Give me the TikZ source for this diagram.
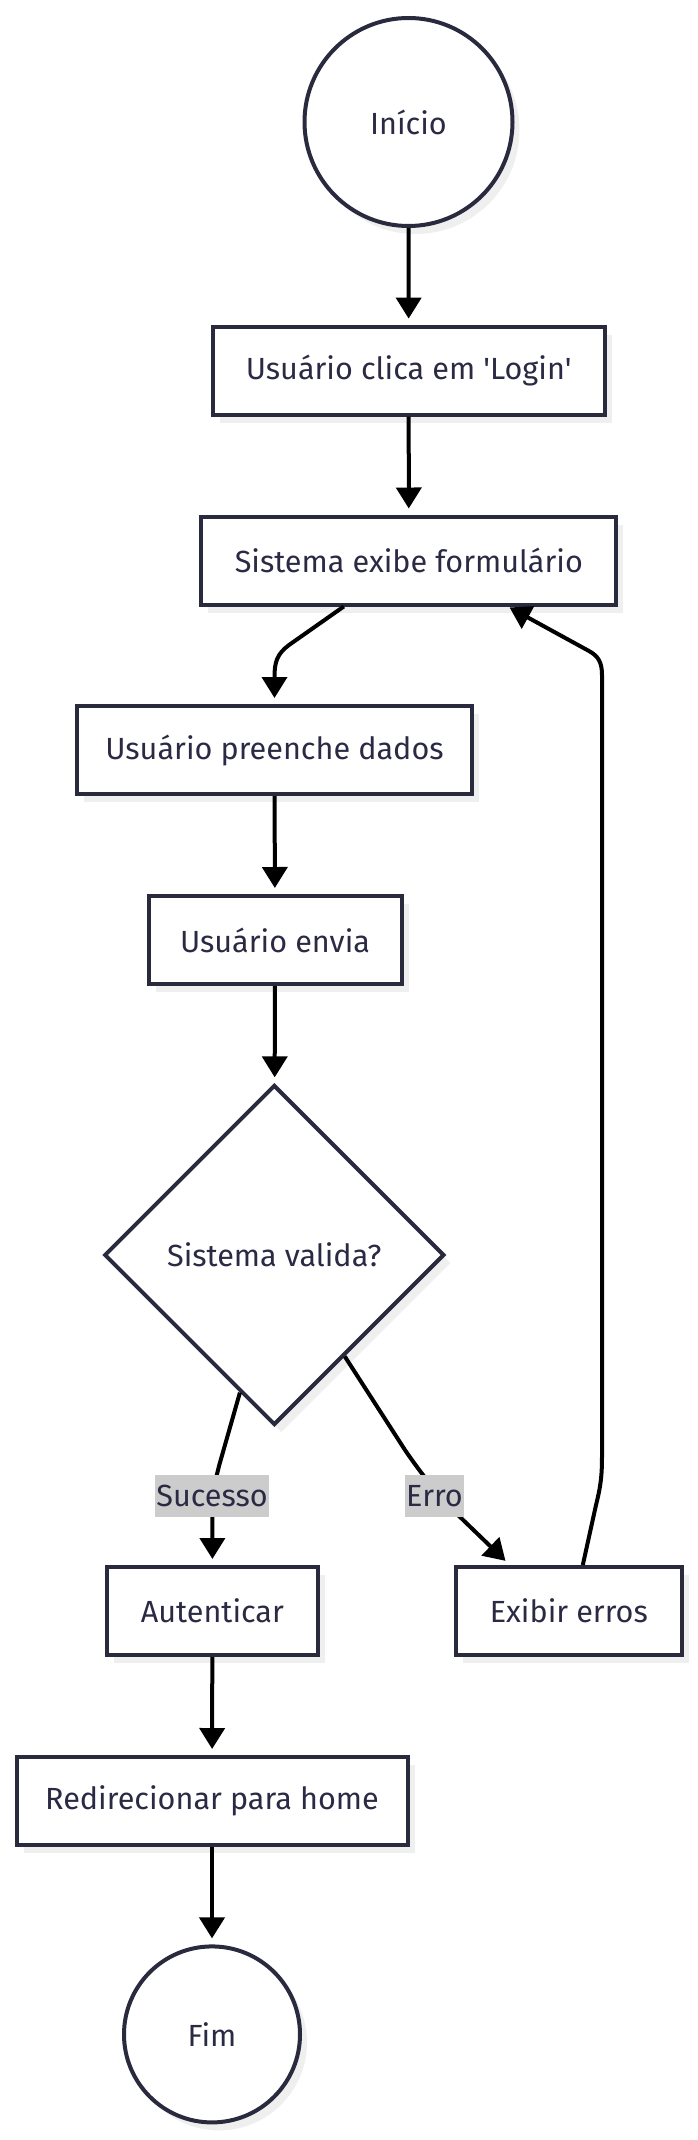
\documentclass[tikz,border=0pt]{standalone}
\usepackage{fontspec}
\setmainfont{Fira Sans}
\usetikzlibrary{shapes.geometric,arrows.meta,shadows,calc}
\definecolor{nodeline}{HTML}{2A2A3E}
\definecolor{txt}{HTML}{2B2A44}
\definecolor{shadowc}{HTML}{EFEFEF}
\definecolor{lblbg}{HTML}{CCCCCC}
\begin{document}
\begin{tikzpicture}[x=1pt,y=-1pt,
  base/.style={draw=nodeline, line width=4pt, fill=white, text=txt,
    font=\fontsize{30.6}{34}\selectfont,
    drop shadow={shadow xshift=7pt, shadow yshift=-8pt, fill=shadowc, opacity=1}},
  box/.style={base, rectangle, minimum height=88pt, inner sep=0pt},
  term/.style={base, circle, inner sep=0pt},
  dec/.style={base, diamond, aspect=1, inner sep=0pt, minimum width=340pt, minimum height=340pt},
  flow/.style={line width=4pt, black, -{Triangle[width=25pt,length=21pt]}, shorten >=6pt},
  lbl/.style={fill=lblbg, text=txt, font=\fontsize{30.6}{34}\selectfont,
    inner xsep=1pt, inner ysep=0pt, minimum height=42pt}
]
\useasboundingbox (0,0) rectangle (698,2140);

\node[term, minimum size=208pt] (start) at (408.5,122) {Início};
\node[box, minimum width=392pt] (b1) at (408.7,370.6) {Usuário clica em \textquotesingle Login\textquotesingle};
\node[box, minimum width=415pt] (b2) at (408.8,560.5) {Sistema exibe formulário};
\node[box, minimum width=395pt] (b3) at (274.5,750) {Usuário preenche dados};
\node[box, minimum width=253pt] (b4) at (275,940) {Usuário envia};
\node[dec] (d) at (274.3,1255) {Sistema valida?};
\node[box, minimum width=211pt] (b5) at (212.4,1611) {Autenticar};
\node[box, minimum width=226pt] (b6) at (568.8,1611) {Exibir erros};
\node[box, minimum width=391pt] (b7) at (212,1801) {Redirecionar para home};
\node[term, minimum size=176pt] (end) at (212,2034.4) {Fim};

\draw[flow] (start) -- (b1);
\draw[flow] (b1) -- (b2);
\draw[flow] ([xshift=-65pt]b2.south) -- (289,645) .. controls (277,654) and (274.5,662) .. (274.5,677) -- (b3);
\draw[flow] (b3) -- (b4);
\draw[flow] (b4) -- (d);
\draw[flow] ($(d.west)!0.8!(d.south)$) -- (219,1466) .. controls (213,1490) .. (212.4,1516) -- (b5);
\draw[flow] ($(d.east)!0.59!(d.south)$) -- (405,1450) .. controls (422,1475) and (440,1497) .. (459,1516) -- ([xshift=-59pt]b6.north);
\draw[flow, shorten >=2pt] ([xshift=14pt]b6.north) -- (596,1505) .. controls (601,1485) and (602,1475) .. (602,1455)
   -- (602,675) .. controls (602,662) and (598,656) .. (589,651) -- ([xshift=99pt]b2.south);
\draw[flow] (b5) -- (b7);
\draw[flow] (b7) -- (end);

\node[lbl] (ls) at (212,1496) {Sucesso};
\node[lbl] (le) at (434.5,1496) {Erro};
\end{tikzpicture}
\end{document}
